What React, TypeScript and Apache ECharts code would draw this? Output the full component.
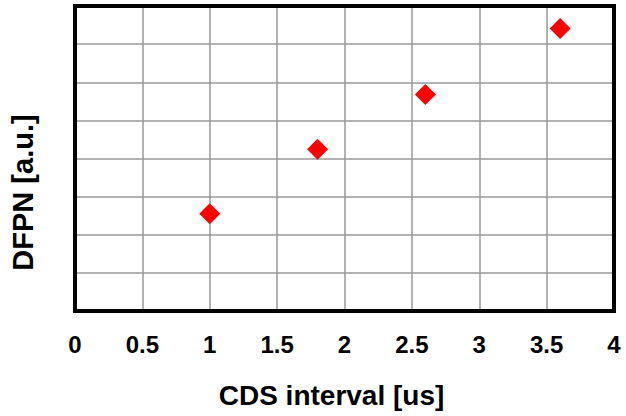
import React, { useEffect, useRef } from "react";
import * as echarts from "echarts";

const xValues = [1, 1.8, 2.6, 3.6];
const yValues = [2.55, 4.24, 5.68, 7.41];
const xTicks = [0, 0.5, 1, 1.5, 2, 2.5, 3, 3.5, 4];

export default function App() {
  const ref = useRef<HTMLDivElement>(null);
  useEffect(() => {
    if (!ref.current) return;
    const chart = echarts.init(ref.current, undefined, { renderer: "svg" });
    const font = "'Liberation Sans', Arial, sans-serif";
    const split = { show: true, lineStyle: { color: "#999999", width: 1.5 } };
    chart.setOption({
      animation: false,
      backgroundColor: "#ffffff",
      grid: {
        left: 74,
        top: 6,
        right: 12,
        bottom: 105,
        show: true,
        z: 10,
        borderColor: "#000000",
        borderWidth: 4,
        backgroundColor: "transparent",
      },
      xAxis: {
        type: "value",
        min: 0,
        max: 4,
        interval: 0.5,
        name: "CDS interval [us]",
        nameLocation: "middle",
        nameGap: 70,
        nameTextStyle: {
          fontFamily: font, fontWeight: "bold", fontSize: 28, color: "#000",
          padding: [0, 26, 0, 0],
        },
        axisLine: { show: false },
        axisTick: { show: false },
        axisLabel: {
          margin: 21,
          fontFamily: font,
          fontWeight: "bold",
          fontSize: 24,
          color: "#000",
          formatter: (v: number) => (xTicks.includes(v) ? String(v) : ""),
        },
        splitLine: split,
      },
      yAxis: {
        type: "value",
        min: 0,
        max: 8,
        interval: 1,
        name: "DFPN [a.u.]",
        nameLocation: "middle",
        nameGap: 38,
        nameTextStyle: {
          fontFamily: font, fontWeight: "bold", fontSize: 29, color: "#000",
          padding: [0, 68, 0, 0],
        },
        axisLine: { show: false },
        axisTick: { show: false },
        axisLabel: { show: false },
        splitLine: split,
      },
      series: [
        {
          type: "scatter",
          data: xValues.map((x, i) => [x, yValues[i]]),
          symbol: "diamond",
          symbolSize: [21, 21],
          itemStyle: { color: "#ff0000", opacity: 1 },
        },
      ],
    });
    return () => chart.dispose();
  }, []);
  return (
    <div
      ref={ref}
      style={{ position: "fixed", left: 0, top: 0, width: 626, height: 416 }}
    />
  );
}
